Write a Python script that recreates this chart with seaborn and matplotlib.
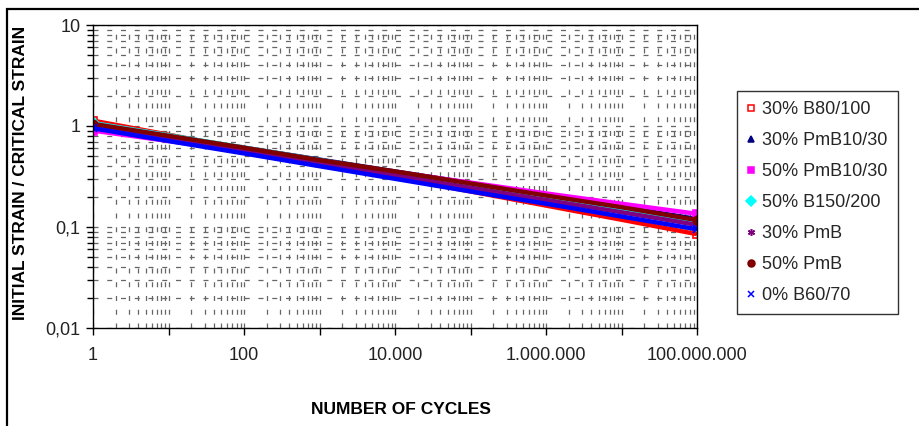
import matplotlib
matplotlib.use("Agg")
import matplotlib.pyplot as plt
import matplotlib.ticker as mticker
from matplotlib.lines import Line2D
from matplotlib.patches import Rectangle
import seaborn as sns
import numpy as np

# ---- data ----
cycles = [1, 10, 100, 1e3, 1e4, 1e5, 1e6, 1e7, 1e8]
b80_30 = [1.13, 0.82, 0.59, 0.43, 0.31, 0.225, 0.163, 0.118, 0.085]
pmb1030_30 = [1.04, 0.80, 0.61, 0.465, 0.355, 0.272, 0.207, 0.158, 0.12]
pmb1030_50 = [0.90, 0.71, 0.56, 0.44, 0.35, 0.275, 0.215, 0.17, 0.135]
b150_50 = [1.07, 0.81, 0.61, 0.46, 0.345, 0.26, 0.195, 0.147, 0.11]
pmb_30 = [1.0, 0.75, 0.57, 0.43, 0.325, 0.245, 0.185, 0.14, 0.105]
pmb_50 = [1.05, 0.80, 0.61, 0.46, 0.355, 0.27, 0.205, 0.157, 0.117]
b6070_0 = [0.95, 0.71, 0.535, 0.40, 0.30, 0.225, 0.17, 0.127, 0.095]

labels = ["30% B80/100", "30% PmB10/30", "50% PmB10/30", "50% B150/200",
          "30% PmB", "50% PmB", "0% B60/70"]
series = [b80_30, pmb1030_30, pmb1030_50, b150_50, pmb_30, pmb_50, b6070_0]
colors = ["#FF0000", "#000080", "#FF00FF", "#00FFFF", "#800080", "#800000", "#0000FF"]
markers = ["s", "^", "s", "D", (6, 2, 0), "o", "x"]
mfaces = ["none", "#000080", "#FF00FF", "#00FFFF", "#800080", "#800000", "#0000FF"]

sns.set_theme(style="white")
plt.rcParams['font.family'] = ['Liberation Sans', 'DejaVu Sans']

fig = plt.figure(figsize=(9.19, 4.26), dpi=100)
ax = fig.add_axes([93/919, 1-328/426, (697-93)/919, (328-25)/426])

for vals, lab, c, m, mf in zip(series, labels, colors, markers, mfaces):
    sns.lineplot(x=cycles, y=vals, ax=ax, color=c, lw=3.2, marker=m,
                 markevery=[0, len(vals)-1], markersize=6, markerfacecolor=mf,
                 markeredgecolor=c, markeredgewidth=1.2, legend=False,
                 solid_capstyle='butt')

ax.set_xscale('log')
ax.set_yscale('log')
ax.set_xlim(1, 1e8)
ax.set_ylim(0.01, 10)


def xfmt(v, pos):
    e = int(round(np.log10(v)))
    if e % 2:
        return ""
    return f"{int(round(v)):,}".replace(",", ".")


def yfmt(v, pos):
    return {10: "10", 1: "1", 0.1: "0,1", 0.01: "0,01"}.get(round(v, 4), "")


ax.xaxis.set_major_locator(mticker.LogLocator(base=10, numticks=20))
ax.xaxis.set_minor_locator(mticker.LogLocator(base=10, subs=np.arange(2, 10), numticks=20))
ax.xaxis.set_major_formatter(mticker.FuncFormatter(xfmt))
ax.xaxis.set_minor_formatter(mticker.NullFormatter())
ax.yaxis.set_major_locator(mticker.LogLocator(base=10, numticks=20))
ax.yaxis.set_minor_locator(mticker.LogLocator(base=10, subs=np.arange(2, 10), numticks=20))
ax.yaxis.set_major_formatter(mticker.FuncFormatter(yfmt))
ax.yaxis.set_minor_formatter(mticker.NullFormatter())

ax.grid(True, which='both', color='0.4', lw=0.9, linestyle=(0, (4, 7)))
ax.set_axisbelow(True)
for s in ax.spines.values():
    s.set_color('black')
    s.set_linewidth(1.0)

ax.tick_params(axis='both', which='major', direction='out', length=5, width=1,
               color='black', labelsize=13, labelcolor='#222222', pad=4, bottom=True, left=True)
ax.tick_params(axis='y', which='minor', direction='out', length=4, width=1, color='black', left=True)
ax.tick_params(axis='x', which='minor', length=0)
ax.tick_params(axis='x', which='major', pad=9)

ax.set_xlabel("")
ax.set_ylabel("")
fig.text(401/919, 1-410/426, "NUMBER OF CYCLES", ha='center', va='center',
         fontsize=12.5, fontweight='bold', color='black')
fig.text(21/919, 1-173/426, "INITIAL STRAIN / CRITICAL STRAIN", ha='center', va='center',
         rotation=90, fontsize=12.5, fontweight='bold', color='black')

handles = [Line2D([], [], linestyle='none', marker=m, color=c, markerfacecolor=mf,
                  markeredgecolor=c, markersize=5, markeredgewidth=1.1)
           for c, m, mf in zip(colors, markers, mfaces)]
leg = fig.legend(handles, labels, loc='upper left', bbox_to_anchor=(737/919, 1-91/426),
                 frameon=True, fancybox=False, fontsize=13, handlelength=0.5,
                 handletextpad=0.35, labelspacing=0.78, borderpad=0.55,
                 borderaxespad=0, edgecolor='black')
leg.get_frame().set_linewidth(1.0)

# outer chart border
fig.patches.append(Rectangle((7/919, -0.1), 1.2, 1 - 9/426 + 0.1, transform=fig.transFigure,
                             fill=False, edgecolor='black', lw=1.6))

fig.savefig("out.png", dpi=100, facecolor='white')
